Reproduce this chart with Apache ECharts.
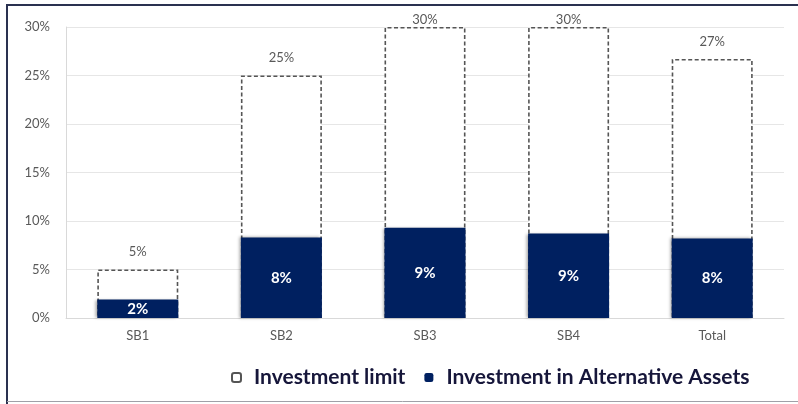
<!DOCTYPE html>
<html><head><meta charset="utf-8">
<script src="https://cdn.jsdelivr.net/npm/echarts@6/dist/echarts.min.js"></script>
<style>html,body{margin:0;padding:0;background:#fff}#c{width:798px;height:404px}</style>
</head><body><div id="c"></div>
<script>
const categories = ['SB1', 'SB2', 'SB3', 'SB4', 'Total'];
const investmentLimit = [5, 25, 30, 30, 26.7];
const investmentAlt = [1.9, 8.3, 9.3, 8.7, 8.2];
const yTicks = [0, 5, 10, 15, 20, 25, 30];

const chart = echarts.init(document.getElementById('c'));
const font = 'Lato, "Open Sans", sans-serif';
chart.setOption({
  animation: false,
  textStyle: { fontFamily: font },
  grid: { left: 66, right: 14, top: 27, bottom: 86 },
  legend: {
    left: 226, top: 362,
    itemWidth: 9, itemHeight: 9, itemGap: 19,
    textStyle: { fontSize: 21, fontWeight: 'bold', color: '#16163a', fontFamily: font, padding: [0, 0, 0, 8] },
    data: ['Investment limit', 'Investment in Alternative Assets']
  },
  graphic: [
    { type: 'polyline', silent: true, shape: { points: [[7, 404], [7, 5], [798, 5]] },
      style: { stroke: '#2a3150', lineWidth: 2, fill: null } },
    { type: 'line', silent: true, shape: { x1: 7, y1: 401.5, x2: 798, y2: 401.5 },
      style: { stroke: '#a0a0a8', lineWidth: 1 } }
  ],
  xAxis: {
    type: 'category', data: categories,
    axisLine: { lineStyle: { color: '#d9d9d9' } },
    axisTick: { show: false },
    axisLabel: { color: '#595959', fontSize: 13, margin: 11 }
  },
  yAxis: {
    type: 'value', min: 0, max: 30, interval: 5,
    axisLine: { show: true, lineStyle: { color: '#d9d9d9' } },
    axisTick: { show: false },
    splitLine: { lineStyle: { color: '#e6e6e6' } },
    axisLabel: { color: '#595959', fontSize: 13, margin: 16,
      formatter: v => yTicks.includes(v) ? v + '%' : '' }
  },
  series: [
    {
      name: 'Investment limit', type: 'bar', barWidth: 81, barGap: '-100%',
      data: investmentLimit.map(v => ({ value: v, label: { distance: v >= 29.5 ? 1 : 11 } })),
      itemStyle: { color: '#ffffff', borderColor: '#555555', borderWidth: 1.6, borderType: [4, 2.5] },
      label: { show: true, position: 'top', color: '#595959', fontSize: 13,
        formatter: p => Math.round(p.value) + '%' },
      z: 1
    },
    {
      name: 'Investment in Alternative Assets', type: 'bar', barWidth: 81,
      data: investmentAlt,
      itemStyle: { color: '#002060', shadowColor: 'rgba(0,0,0,0.35)', shadowBlur: 3, shadowOffsetX: -2 },
      label: { show: true, position: 'inside', color: '#ffffff', fontSize: 15, fontWeight: 'bold',
        formatter: p => Math.round(p.value) + '%' },
      z: 3
    }
  ]
});
</script></body></html>
